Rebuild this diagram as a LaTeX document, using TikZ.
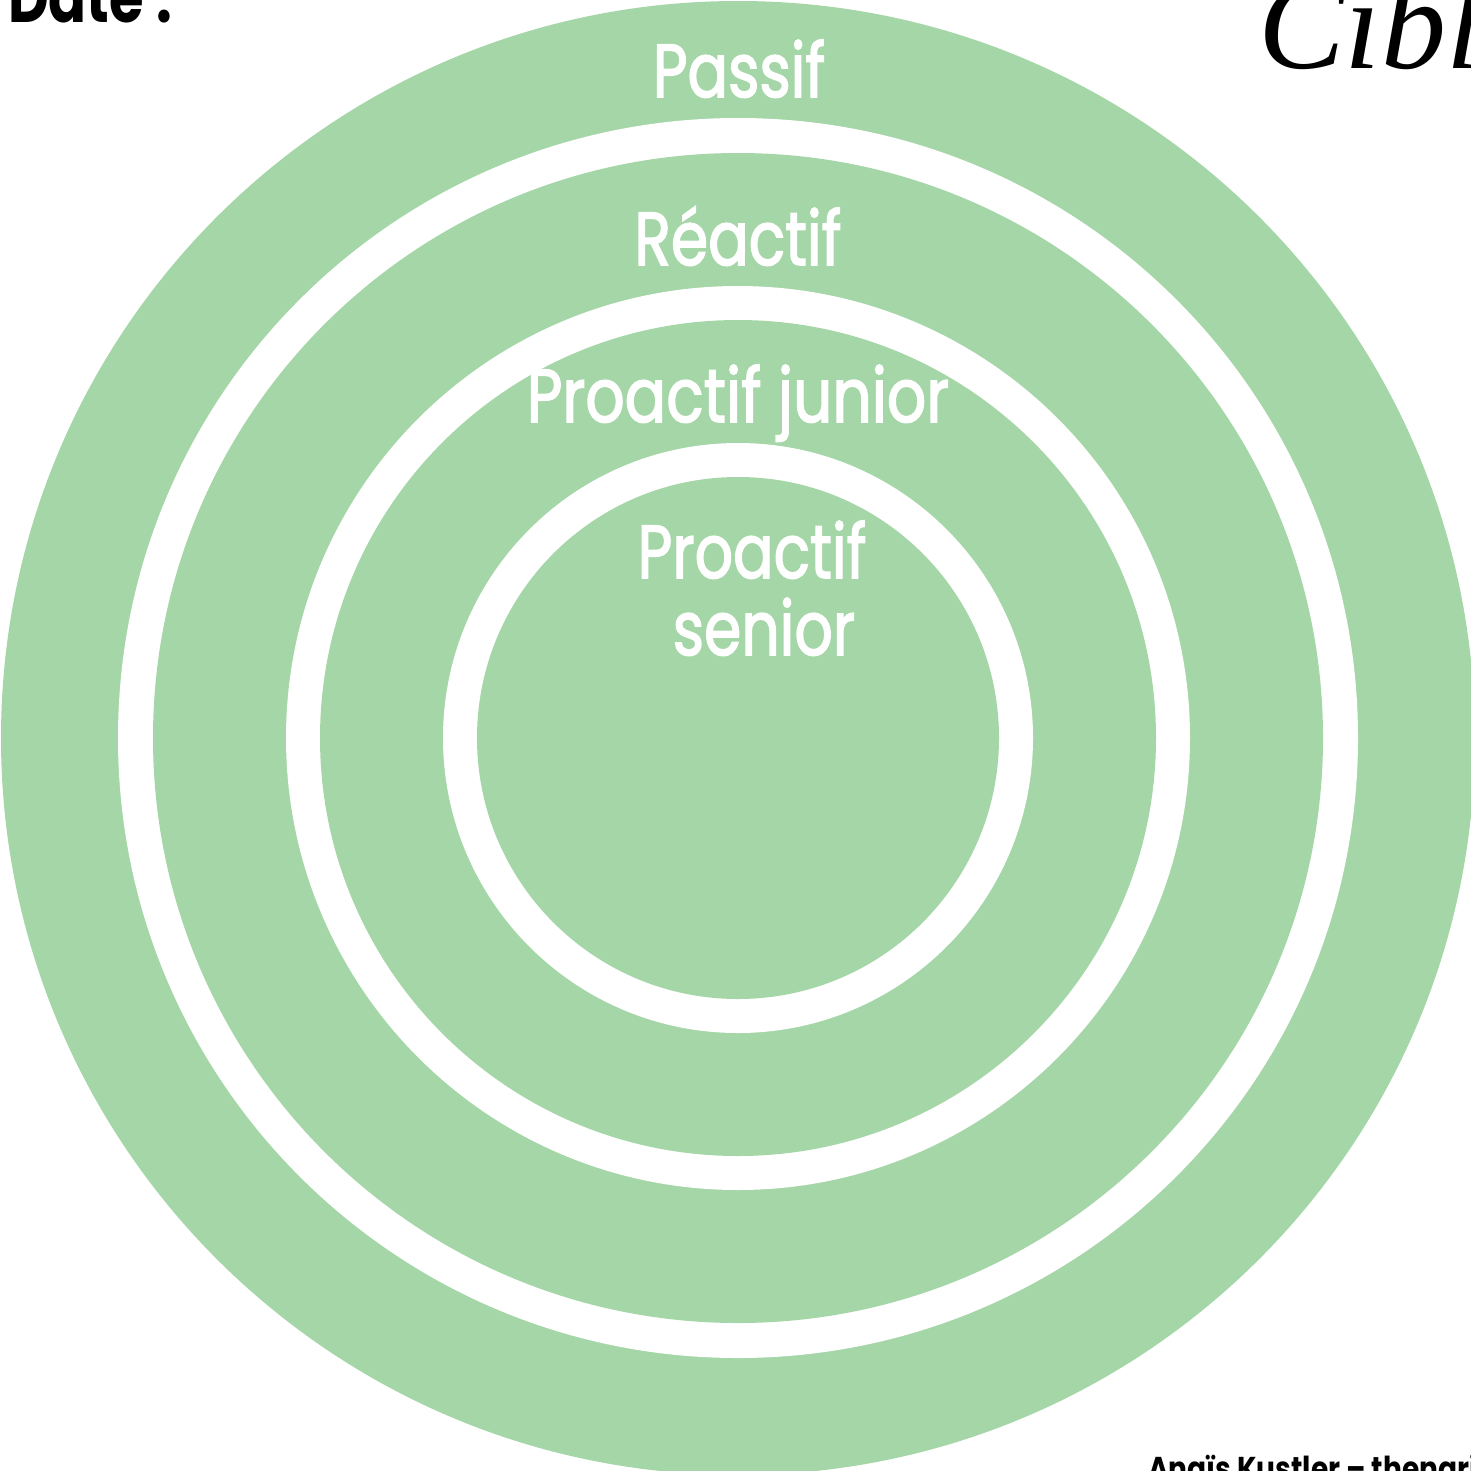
\documentclass[tikz,border=0pt]{standalone}
\usepackage{graphicx}
\usepackage{fontspec}
\newfontfamily\hand{Poppins}[FakeBold=2.2]
\newfontfamily\handk{Poppins}
\newfontfamily\scriptf{Liberation Serif}
\definecolor{ringgreen}{HTML}{A5D6A7}
\tikzset{
  lbl/.style={text=white, inner sep=0pt, anchor=base, font=\hand\fontsize{75}{80}\selectfont},
  ink/.style={text=black, inner sep=0pt, anchor=base west},
}
\newcommand{\sq}[1]{\scalebox{0.8}[1]{#1}}
\begin{document}
\begin{tikzpicture}[x=1pt,y=-1pt]
\useasboundingbox (0,0) rectangle (1471,1470);
\clip (0,0) rectangle (1471,1470);
\fill[white] (0,0) rectangle (1471,1470);
\coordinate (c) at (738,738);
\fill[ringgreen] (c) circle[radius=737];
\fill[white] (c) circle[radius=620];
\fill[ringgreen] (c) circle[radius=585];
\fill[white] (c) circle[radius=452];
\fill[ringgreen] (c) circle[radius=418];
\fill[white] (c) circle[radius=295];
\fill[ringgreen] (c) circle[radius=261];
\node[lbl] (passif) at (739,97) {\sq{Passif}};
\node[lbl] (reactif) at (738,265) {\sq{Réactif}};
\node[lbl] (junior) at (738,422) {\scalebox{0.82}[1]{Proactif junior}};
\node[lbl] (senior1) at (752,578) {\sq{Proactif}};
\node[lbl] (senior2) at (764,655) {\sq{senior}};
\node[ink, font=\handk\bfseries\fontsize{70}{70}\selectfont] (date) at (8,22) {\sq{Date :}};
\node[ink, font=\scriptf\itshape\fontsize{130}{130}\selectfont] (cible) at (1258,68) {Cible};
\node[ink, font=\handk\bfseries\fontsize{33}{35}\selectfont] (credit) at (1148,1480) {\scalebox{0.85}[1]{Anaïs Kustler – thenaried}};
\end{tikzpicture}
\end{document}
